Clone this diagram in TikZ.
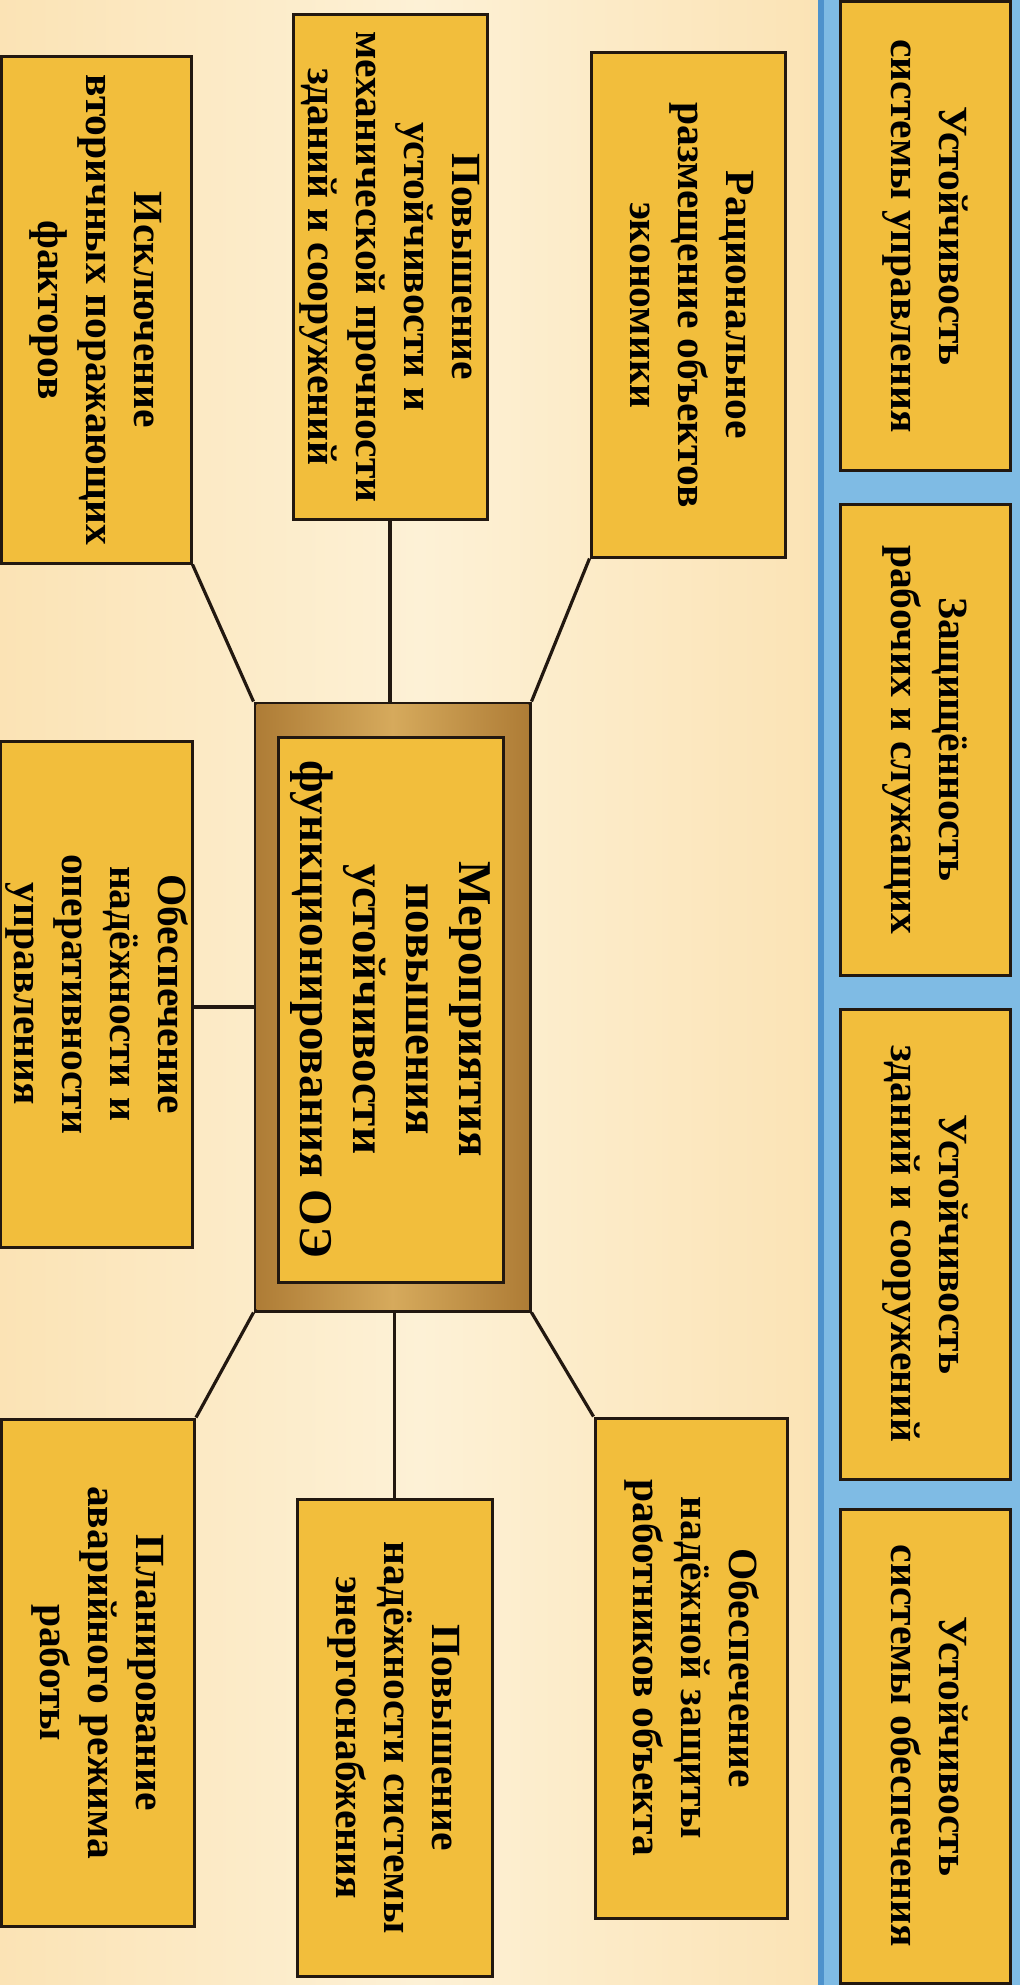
\documentclass[tikz,border=0pt]{standalone}
\usepackage{fontspec}
\setmainfont{Liberation Serif}
\definecolor{bgA}{HTML}{FBE3B5}
\definecolor{bgB}{HTML}{FDF1D6}
\definecolor{boxy}{HTML}{F2BE3C}
\definecolor{frameA}{HTML}{AE7C36}
\definecolor{frameB}{HTML}{D6AA5C}
\definecolor{stripblue}{HTML}{7FBBE4}
\definecolor{darkblue}{HTML}{4E92CC}
\definecolor{ink}{HTML}{221810}
\tikzset{
  box/.style={draw=ink, line width=3pt, fill=boxy, inner sep=0pt,
    font=\bfseries\fontsize{41.5}{48}\selectfont},
  bigbox/.style={box, font=\bfseries\fontsize{47}{53}\selectfont},
  framebox/.style={draw=ink, line width=3pt, fill=frameA, inner sep=0pt},
  conn/.style={draw=ink, line width=3.2pt},
}
\newcommand{\rt}[1]{\rotatebox{-90}{\begin{tabular}{@{}c@{}}#1\end{tabular}}}
\begin{document}
\begin{tikzpicture}[x=1pt,y=-1pt]
\useasboundingbox (0,0) rectangle (1020,1985);
\clip (0,0) rectangle (1020,1985);
% background
\shade[left color=bgA, right color=bgB] (0,0) rectangle (420,1985);
\shade[left color=bgB, right color=bgA] (420,0) rectangle (818,1985);
\fill[stripblue] (818,0) rectangle (1020,1985);
\fill[darkblue] (818,0) rectangle (824,1985);

% right column
\node[box, minimum width=170pt, minimum height=469pt] (r1) at (925,236)
  {\rt{Устойчивость\\системы управления}};
\node[box, minimum width=170pt, minimum height=471pt] (r2) at (925,739.5)
  {\rt{Защищённость\\рабочих и служащих}};
\node[box, minimum width=170pt, minimum height=470pt] (r3) at (925,1244)
  {\rt{Устойчивость\\зданий и сооружений}};
\node[box, minimum width=170pt, minimum height=474pt] (r4) at (925,1746)
  {\rt{Устойчивость\\системы обеспечения}};

% centre
\node[framebox, minimum width=275pt, minimum height=608pt] (outer) at (392.5,1007) {};
\shade[left color=frameA, right color=frameA, middle color=frameB]
  ([shift={(3pt,-3pt)}]outer.north west) rectangle ([shift={(-3pt,3pt)}]outer.south east);
\node[bigbox, minimum width=225pt, minimum height=545pt] (ctr) at (390.5,1009.5)
  {\rt{Мероприятия\\повышения\\устойчивости\\функционирования ОЭ}};

% top row
\node[box, minimum width=190pt, minimum height=506pt] (isk) at (96,310)
  {\rt{Исключение\\вторичных поражающих\\факторов}};
\node[box, minimum width=194pt, minimum height=504pt] (pov1) at (390,267)
  {\rt{Повышение\\устойчивости и\\механической прочности\\зданий и сооружений}};
\node[box, minimum width=194pt, minimum height=504pt] (rac) at (688,305)
  {\rt{Рациональное\\размещение объектов\\экономики}};

% middle left
\node[box, minimum width=190pt, minimum height=506pt] (obn) at (96,994)
  {\rt{Обеспечение\\надёжности и\\оперативности\\управления}};

% bottom row
\node[box, minimum width=193pt, minimum height=507pt] (plan) at (98,1672.5)
  {\rt{Планирование\\аварийного режима\\работы}};
\node[box, minimum width=195pt, minimum height=477pt] (pov2) at (394.5,1737.5)
  {\rt{Повышение\\надёжности системы\\энергоснабжения}};
\node[box, minimum width=192pt, minimum height=500pt] (obz) at (691,1668)
  {\rt{Обеспечение\\надёжной защиты\\работников объекта}};

% connectors
\draw[conn] (rac.south west) -- (outer.north east);
\draw[conn] (pov1.south) -- (pov1.south |- outer.north);
\draw[conn] (isk.south east) -- (outer.north west);
\draw[conn] (outer.west) -- (outer.west -| obn.east);
\draw[conn] (outer.south west) -- (plan.north east);
\draw[conn] (pov2.north |- outer.south) -- (pov2.north);
\draw[conn] (outer.south east) -- (obz.north west);
\end{tikzpicture}
\end{document}
